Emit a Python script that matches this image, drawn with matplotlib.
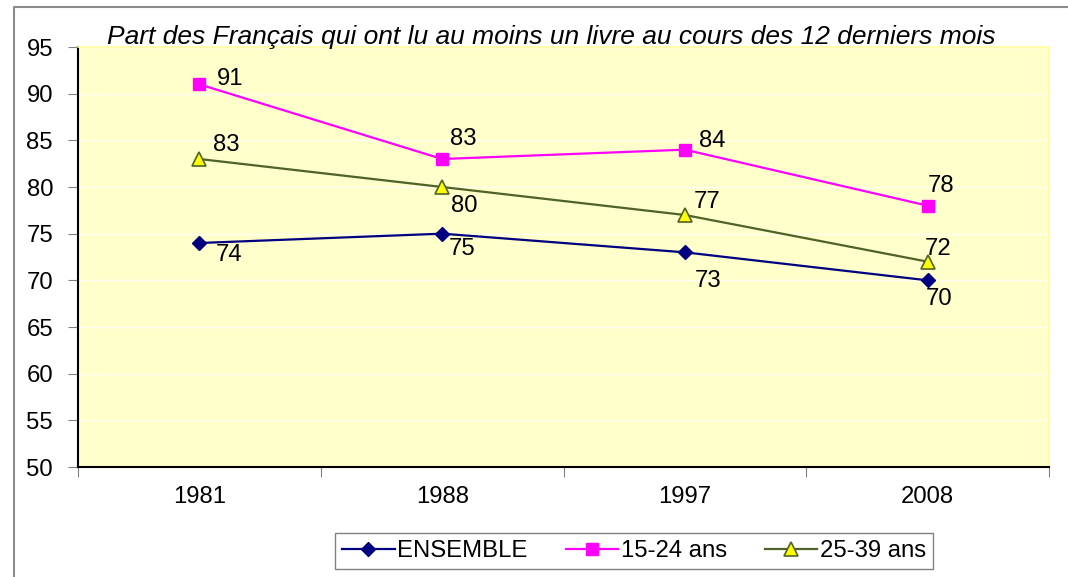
import numpy as np
import matplotlib
matplotlib.use("Agg")
import matplotlib.pyplot as plt
from matplotlib.lines import Line2D
from matplotlib.transforms import ScaledTranslation

plt.rcParams['font.family'] = ['Liberation Sans', 'DejaVu Sans']

# data
years = ['1981', '1988', '1997', '2008']
ensemble = [74, 75, 73, 70]
jeunes = [91, 83, 84, 78]
adultes = [83, 80, 77, 72]
series_names = ['ENSEMBLE', '15-24 ans', '25-39 ans']
title = 'Part des Français qui ont lu au moins un livre au cours des 12 derniers mois'

# label offsets in pixels (dx right, dy down) as placed in the original
offsets = {
    'ENSEMBLE': [(30, 12), (20, 15), (23, 29), (11, 19)],
    '15-24 ans': [(31, -5), (21, -20), (27, -9), (13, -20)],
    '25-39 ans': [(27, -14), (22, 19), (22, -13), (10, -13)],
}

W, H = 1068, 577
FS = 17.2
fig = plt.figure(figsize=(W / 100, H / 100), dpi=100)
ax = fig.add_axes([78 / W, 1 - 467 / H, (1049 - 78) / W, (467 - 47) / H])
ax.set_facecolor('#FFFFCC')

x = np.arange(len(years))
styles = [
    dict(color='#000080', marker='D', ms=7.5, mfc='#000080', mec='#000080'),
    dict(color='#FF00FF', marker='s', ms=9, mfc='#FF00FF', mec='#FF00FF'),
    dict(color='#4F6228', marker='^', ms=10, mfc='#FFFF00', mec='#4F6228', mew=1.2),
]

for name, vals, st in zip(series_names, [ensemble, jeunes, adultes], styles):
    ax.plot(x, vals, lw=1.6, label=name, zorder=3, **st)
    for xi, v, (dx, dy) in zip(x, vals, offsets[name]):
        tr = ax.transData + ScaledTranslation(dx / 100, -dy / 100, fig.dpi_scale_trans)
        ax.text(xi, v, str(v), transform=tr, ha='center', va='center',
                fontsize=FS, color='black', zorder=4)

ax.set_xlim(-0.5, len(years) - 0.5)
ax.set_ylim(50, 95)
ax.set_yticks(np.arange(50, 96, 5))
ax.grid(axis='y', color='#FFFFF0', lw=1, zorder=0)
ax.set_axisbelow(True)

# category axis: ticks between categories, labels centred
ax.set_xticks(np.arange(-0.5, len(years), 1))
ax.set_xticklabels([])
ax.set_xticks(x, minor=True)
ax.set_xticklabels(years, minor=True)
ax.tick_params(axis='x', which='minor', length=0, pad=14, labelsize=FS)
ax.tick_params(axis='x', which='major', length=7, color='#808080', direction='out')
ax.tick_params(axis='y', length=7, color='#808080', pad=11, labelsize=FS)

for side in ['left', 'bottom']:
    ax.spines[side].set_color('black')
    ax.spines[side].set_linewidth(1.5)
for side in ['top', 'right']:
    ax.spines[side].set_color('#FFFF99')
    ax.spines[side].set_linewidth(1.2)

fig.text(551 / W, 1 - 37 / H, title, ha='center', va='center',
         fontsize=19, style='italic')

leg = fig.legend(loc='center', bbox_to_anchor=(634 / W, 1 - 551 / H), ncol=3,
                 fontsize=FS, frameon=True, fancybox=False, edgecolor='#808080',
                 handlelength=2.2, handletextpad=0.1, columnspacing=1.6,
                 borderpad=0.3, borderaxespad=0, framealpha=1)
leg.get_frame().set_linewidth(1)

# outer chart border (top and left visible)
fig.add_artist(Line2D([14 / W, 14 / W, 1.0], [0, 1 - 7 / H, 1 - 7 / H],
                      transform=fig.transFigure, color='#8C8C8C', lw=1.5))

fig.savefig('out.png', dpi=100)
